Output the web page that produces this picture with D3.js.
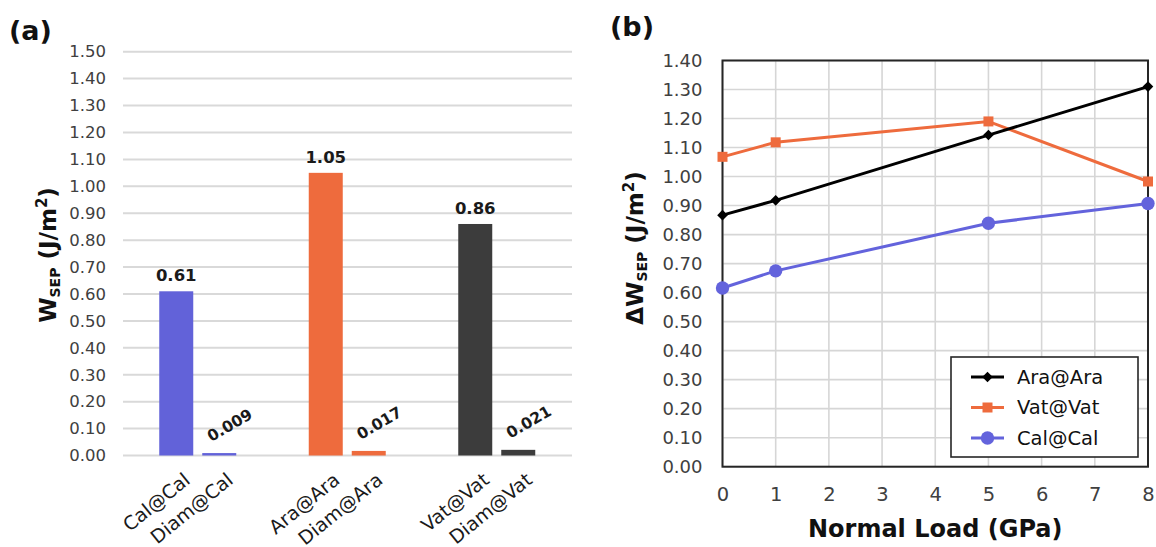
<!DOCTYPE html>
<html>
<head>
<meta charset="utf-8">
<script src="https://cdn.jsdelivr.net/npm/d3@7"></script>
<style>
  html, body { margin: 0; padding: 0; background: #ffffff; }
  svg { display: block; font-family: "DejaVu Sans", Verdana, sans-serif; }
</style>
</head>
<body>
<svg id="chart" width="1156" height="547"></svg>
<script>
// ---------- Panel (a) data ----------
const barCategories = ["Cal@Cal", "Diam@Cal", "Ara@Ara", "Diam@Ara", "Vat@Vat", "Diam@Vat"];
const barGroups     = ["Cal", "Cal", "Ara", "Ara", "Vat", "Vat"];
const barSlots      = [0, 1, 0, 1, 0, 1];
const barValues     = [0.61, 0.009, 1.05, 0.017, 0.86, 0.021];
const barLabels     = ["0.61", "0.009", "1.05", "0.017", "0.86", "0.021"];
const groupOrder    = ["Cal", "Ara", "Vat"];
const leftTicks     = [0, 0.1, 0.2, 0.3, 0.4, 0.5, 0.6, 0.7, 0.8, 0.9, 1.0, 1.1, 1.2, 1.3, 1.4, 1.5];

// ---------- Panel (b) data ----------
const loads      = [0, 1, 5, 8];
const araValues  = [0.867, 0.918, 1.143, 1.31];
const vatValues  = [1.068, 1.118, 1.19, 0.983];
const calValues  = [0.616, 0.675, 0.839, 0.907];
const seriesNames = ["Ara@Ara", "Vat@Vat", "Cal@Cal"];
const rightYTicks = [0, 0.1, 0.2, 0.3, 0.4, 0.5, 0.6, 0.7, 0.8, 0.9, 1.0, 1.1, 1.2, 1.3, 1.4];
const rightXTicks = [0, 1, 2, 3, 4, 5, 6, 7, 8];

const groupColor = { Cal: "#6262d9", Ara: "#ee6b3d", Vat: "#3c3c3c" };
const seriesColor = { "Ara@Ara": "#000000", "Vat@Vat": "#ee6b3d", "Cal@Cal": "#6363dc" };

const svg = d3.select("#chart");
const fmt2 = d3.format(".2f");

// =============== Panel (a) ===============
const yA = d3.scaleLinear().domain([0, 1.5]).range([455.5, 51.7]);
const x0 = d3.scaleBand().domain(groupOrder).range([123, 571.5]).paddingInner(0).paddingOuter(0);
const x1 = d3.scaleBand().domain([0, 1]).range([-38.5, 38.5]).paddingInner(9 / 43).paddingOuter(0);

const gA = svg.append("g");

gA.append("g").selectAll("line").data(leftTicks).join("line")
  .attr("x1", 123).attr("x2", 572)
  .attr("y1", d => yA(d)).attr("y2", d => yA(d))
  .attr("stroke", "#d9d9d9").attr("stroke-width", 2);

const axA = gA.append("g").attr("transform", "translate(123,0)")
  .call(d3.axisLeft(yA).tickValues(leftTicks).tickFormat(fmt2).tickSize(0).tickPadding(17));
axA.select(".domain").remove();
axA.selectAll("text").style("font-size", "16.5px").style("font-family", "DejaVu Sans, Verdana, sans-serif").attr("fill", "#404040");

const barCx = i => x0(barGroups[i]) + x0.bandwidth() / 2 + x1(barSlots[i]) + x1.bandwidth() / 2;

gA.append("g").selectAll("rect").data(barValues).join("rect")
  .attr("x", (d, i) => x0(barGroups[i]) + x0.bandwidth() / 2 + x1(barSlots[i]))
  .attr("width", x1.bandwidth())
  .attr("y", d => yA(d))
  .attr("height", d => yA(0) - yA(d))
  .attr("fill", (d, i) => groupColor[barGroups[i]]);

barValues.forEach((v, i) => {
  if (barSlots[i] === 0) {
    gA.append("text")
      .attr("x", barCx(i)).attr("y", yA(v) - 10)
      .attr("text-anchor", "middle")
      .style("font-size", "16.5px").style("font-weight", "bold")
      .attr("fill", "#1a1a1a")
      .text(barLabels[i]);
  } else {
    gA.append("text")
      .attr("transform", `translate(${barCx(i) - 8},${yA(v) - 11}) rotate(-30)`)
      .attr("text-anchor", "start")
      .style("font-size", "15.5px").style("font-weight", "bold")
      .attr("fill", "#1a1a1a")
      .text(barLabels[i]);
  }
});

barCategories.forEach((c, i) => {
  gA.append("text")
    .attr("transform", `translate(${barCx(i) + 11},477) rotate(-39)`)
    .attr("text-anchor", "end")
    .attr("dy", "0.35em")
    .style("font-size", "19px")
    .attr("fill", "#1a1a1a")
    .text(c);
});

const tA = svg.append("text")
  .attr("transform", "translate(56,255) rotate(-90)")
  .attr("text-anchor", "middle")
  .style("font-size", "23px").style("font-weight", "bold").attr("fill", "#111");
tA.append("tspan").text("W");
tA.append("tspan").attr("dy", 4).style("font-size", "14px").text("SEP");
tA.append("tspan").attr("dy", -4).text(" (J/m");
tA.append("tspan").attr("dy", -9).style("font-size", "15px").text("2");
tA.append("tspan").attr("dy", 9).text(")");

svg.append("text").attr("x", 9).attr("y", 40)
  .style("font-size", "27px").style("font-weight", "bold").attr("fill", "#111").text("(a)");

// =============== Panel (b) ===============
const xB = d3.scaleLinear().domain([0, 8]).range([722.5, 1148]);
const yB = d3.scaleLinear().domain([0, 1.4]).range([466.7, 60.5]);
const gB = svg.append("g");

gB.append("g").selectAll("line").data(rightYTicks).join("line")
  .attr("x1", xB(0)).attr("x2", xB(8))
  .attr("y1", d => yB(d)).attr("y2", d => yB(d))
  .attr("stroke", "#d6d6d6").attr("stroke-width", 1.6);
gB.append("g").selectAll("line").data(rightXTicks).join("line")
  .attr("y1", yB(0)).attr("y2", yB(1.4))
  .attr("x1", d => xB(d)).attr("x2", d => xB(d))
  .attr("stroke", "#d6d6d6").attr("stroke-width", 1.6);

const axBY = gB.append("g").attr("transform", `translate(${xB(0)},0)`)
  .call(d3.axisLeft(yB).tickValues(rightYTicks).tickFormat(fmt2).tickSize(0).tickPadding(20));
axBY.select(".domain").remove();
axBY.selectAll("text").style("font-size", "18px").style("font-family", "DejaVu Sans, Verdana, sans-serif").attr("fill", "#404040");

const axBX = gB.append("g").attr("transform", `translate(0,${yB(0)})`)
  .call(d3.axisBottom(xB).tickValues(rightXTicks).tickFormat(d3.format("d")).tickSize(0).tickPadding(20));
axBX.select(".domain").remove();
axBX.selectAll("text").style("font-size", "19.5px").style("font-family", "DejaVu Sans, Verdana, sans-serif").attr("fill", "#404040");

gB.append("rect").attr("x", xB(0)).attr("y", yB(1.4))
  .attr("width", xB(8) - xB(0)).attr("height", yB(0) - yB(1.4))
  .attr("fill", "none").attr("stroke", "#262626").attr("stroke-width", 2);

const line = d3.line().x((d, i) => xB(loads[i])).y(d => yB(d));
const seriesData = { "Ara@Ara": araValues, "Vat@Vat": vatValues, "Cal@Cal": calValues };
const seriesSymbol = {
  "Ara@Ara": { type: d3.symbolSquare, size: 56, rot: 45 },
  "Vat@Vat": { type: d3.symbolSquare, size: 100, rot: 0 },
  "Cal@Cal": { type: d3.symbolCircle, size: 140, rot: 0 }
};

["Cal@Cal", "Vat@Vat", "Ara@Ara"].forEach(name => {
  const vals = seriesData[name];
  gB.append("path").datum(vals).attr("d", line)
    .attr("fill", "none").attr("stroke", seriesColor[name]).attr("stroke-width", 3);
  const sym = seriesSymbol[name];
  gB.append("g").selectAll("path").data(vals).join("path")
    .attr("d", d3.symbol().type(sym.type).size(sym.size))
    .attr("transform", (d, i) => `translate(${xB(loads[i])},${yB(d)}) rotate(${sym.rot})`)
    .attr("fill", seriesColor[name]);
});

const lg = gB.append("g");
lg.append("rect").attr("x", 951).attr("y", 357).attr("width", 187).attr("height", 100)
  .attr("fill", "#ffffff").attr("stroke", "#262626").attr("stroke-width", 1.6);
seriesNames.forEach((name, i) => {
  const cy = 377 + i * 30.5;
  lg.append("line").attr("x1", 971).attr("x2", 1004).attr("y1", cy).attr("y2", cy)
    .attr("stroke", seriesColor[name]).attr("stroke-width", 3);
  const sym = seriesSymbol[name];
  lg.append("path").attr("d", d3.symbol().type(sym.type).size(sym.size))
    .attr("transform", `translate(987.5,${cy}) rotate(${sym.rot})`)
    .attr("fill", seriesColor[name]);
  lg.append("text").attr("x", 1017).attr("y", cy).attr("dy", "0.35em")
    .style("font-size", "19.5px").attr("fill", "#111").text(name);
});

svg.append("text").attr("x", (xB(0) + xB(8)) / 2).attr("y", 537)
  .attr("text-anchor", "middle")
  .style("font-size", "24px").style("font-weight", "bold").attr("fill", "#111")
  .text("Normal Load (GPa)");

const tB = svg.append("text")
  .attr("transform", "translate(643,248) rotate(-90)")
  .attr("text-anchor", "middle")
  .style("font-size", "23px").style("font-weight", "bold").attr("fill", "#111");
tB.append("tspan").text("ΔW");
tB.append("tspan").attr("dy", 4).style("font-size", "14px").text("SEP");
tB.append("tspan").attr("dy", -4).text(" (J/m");
tB.append("tspan").attr("dy", -9).style("font-size", "15px").text("2");
tB.append("tspan").attr("dy", 9).text(")");

svg.append("text").attr("x", 610).attr("y", 36)
  .style("font-size", "27px").style("font-weight", "bold").attr("fill", "#111").text("(b)");
</script>
</body>
</html>
